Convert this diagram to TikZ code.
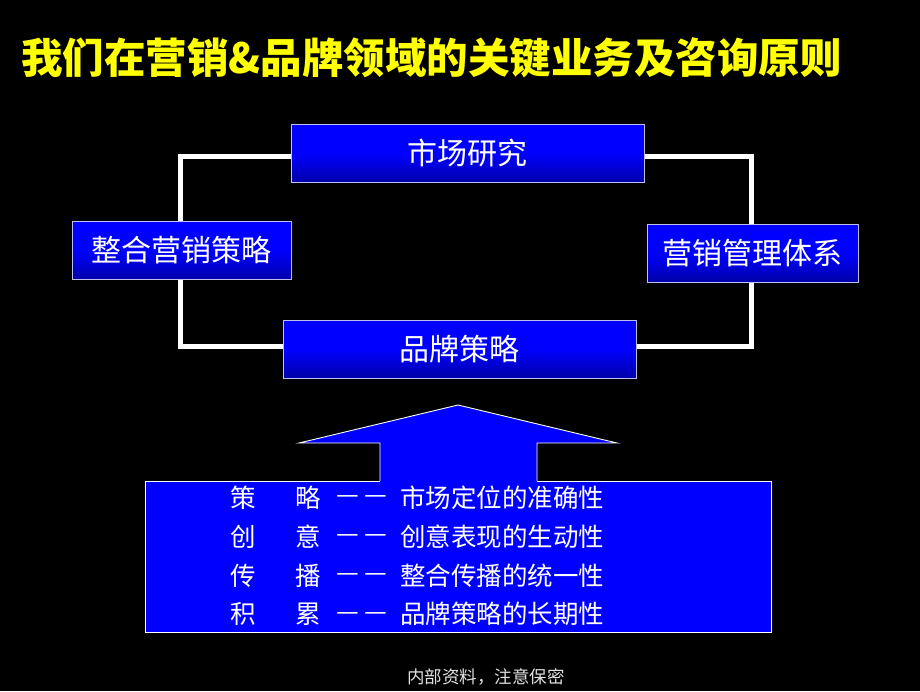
\documentclass[tikz,border=0pt]{standalone}
\usepackage{fontspec}
\newfontfamily\cjk{Noto Sans CJK SC}
\definecolor{bxblue}{RGB}{0,0,255}
\definecolor{bxdark}{RGB}{0,0,170}
\definecolor{bxedge}{RGB}{190,190,240}
\definecolor{titley}{RGB}{255,255,0}
\tikzset{
  x=1pt, y=-1pt,
  mainbox/.style={draw=bxedge, line width=1pt, top color=bxblue, bottom color=bxdark, middle color=bxblue,
    text=white, font=\cjk\fontsize{30}{34}\selectfont, inner sep=0pt, anchor=center},
  frameline/.style={draw=white, line width=5pt},
  listtxt/.style={text=white, font=\cjk\fontsize{25.5}{29}\selectfont, inner sep=0pt}
}
\begin{document}
\begin{tikzpicture}
\fill[black] (0,0) rectangle (920,691);
\useasboundingbox (0,0) rectangle (920,691);

% title
\node[anchor=west, text=titley, font=\cjk\bfseries\fontsize{41.5}{46}\selectfont, inner sep=0pt] (title) at (21,58) {我们在营销\&品牌领域的关键业务及咨询原则};

% boxes (positions only)
\coordinate (ptop) at (467.5,153);
\coordinate (pleft) at (181.5,250);
\coordinate (pright) at (752.5,253);
\coordinate (pbot) at (459.5,349);

% frame lines behind
\path (ptop) node[minimum width=353pt, minimum height=58pt, inner sep=0pt] (top) {};
\path (pleft) node[minimum width=219pt, minimum height=58pt, inner sep=0pt] (left) {};
\path (pright) node[minimum width=211pt, minimum height=58pt, inner sep=0pt] (right) {};
\path (pbot) node[minimum width=353pt, minimum height=58pt, inner sep=0pt] (bot) {};
\draw[frameline] ([yshift=-3pt]top.west) -| ([xshift=-1.5pt]left.north);
\draw[frameline] ([xshift=-1.5pt]left.south) |- ([yshift=3pt]bot.west);
\draw[frameline] ([yshift=3pt]bot.east) -| ([xshift=-1.5pt]right.south);
\draw[frameline] ([xshift=-1.5pt]right.north) |- ([yshift=-3pt]top.east);

\node[mainbox, minimum width=353pt, minimum height=58pt] (top) at (ptop) {市场研究};
\node[mainbox, minimum width=219pt, minimum height=58pt] (left) at (pleft) {整合营销策略};
\node[mainbox, minimum width=211pt, minimum height=58pt] (right) at (pright) {营销管理体系};
\node[mainbox, minimum width=353pt, minimum height=58pt] (bot) at (pbot) {品牌策略};

% bottom list box
\node[draw=white, line width=1pt, fill=bxblue, minimum width=626pt, minimum height=151pt, inner sep=0pt] (list) at (458,556.5) {};

% arrow
\fill[bxblue] (380,482) -- (380,443) -- (299,443) -- (458,405) -- (617,443) -- (537,443) -- (537,482) -- cycle;
\draw[white, line width=0.9pt] (380,481) -- (380,443) -- (299,443) -- (458,405) -- (617,443) -- (537,443) -- (537,481);

% list text
\foreach \a/\b/\t [count=\i] in {策/略/市场定位的准确性, 创/意/创意表现的生动性, 传/播/整合传播的统一性, 积/累/品牌策略的长期性}{
  \pgfmathsetmacro{\yy}{459+38.8*\i}
  \node[listtxt] (c1-\i) at (243,\yy) {\a};
  \node[listtxt] (c2-\i) at (308,\yy) {\b};
  \node[listtxt] (d-\i) at (362,\yy+2) {—\hspace{5pt}—};
  \node[listtxt, anchor=west] (t-\i) at (400,\yy) {\t};
}

% footer
\node[text={rgb,255:red,225;green,225;blue,225}, font=\cjk\fontsize{17.5}{19}\selectfont, inner sep=0pt] (foot) at (486,677) {内部资料，注意保密};
\end{tikzpicture}
\end{document}
